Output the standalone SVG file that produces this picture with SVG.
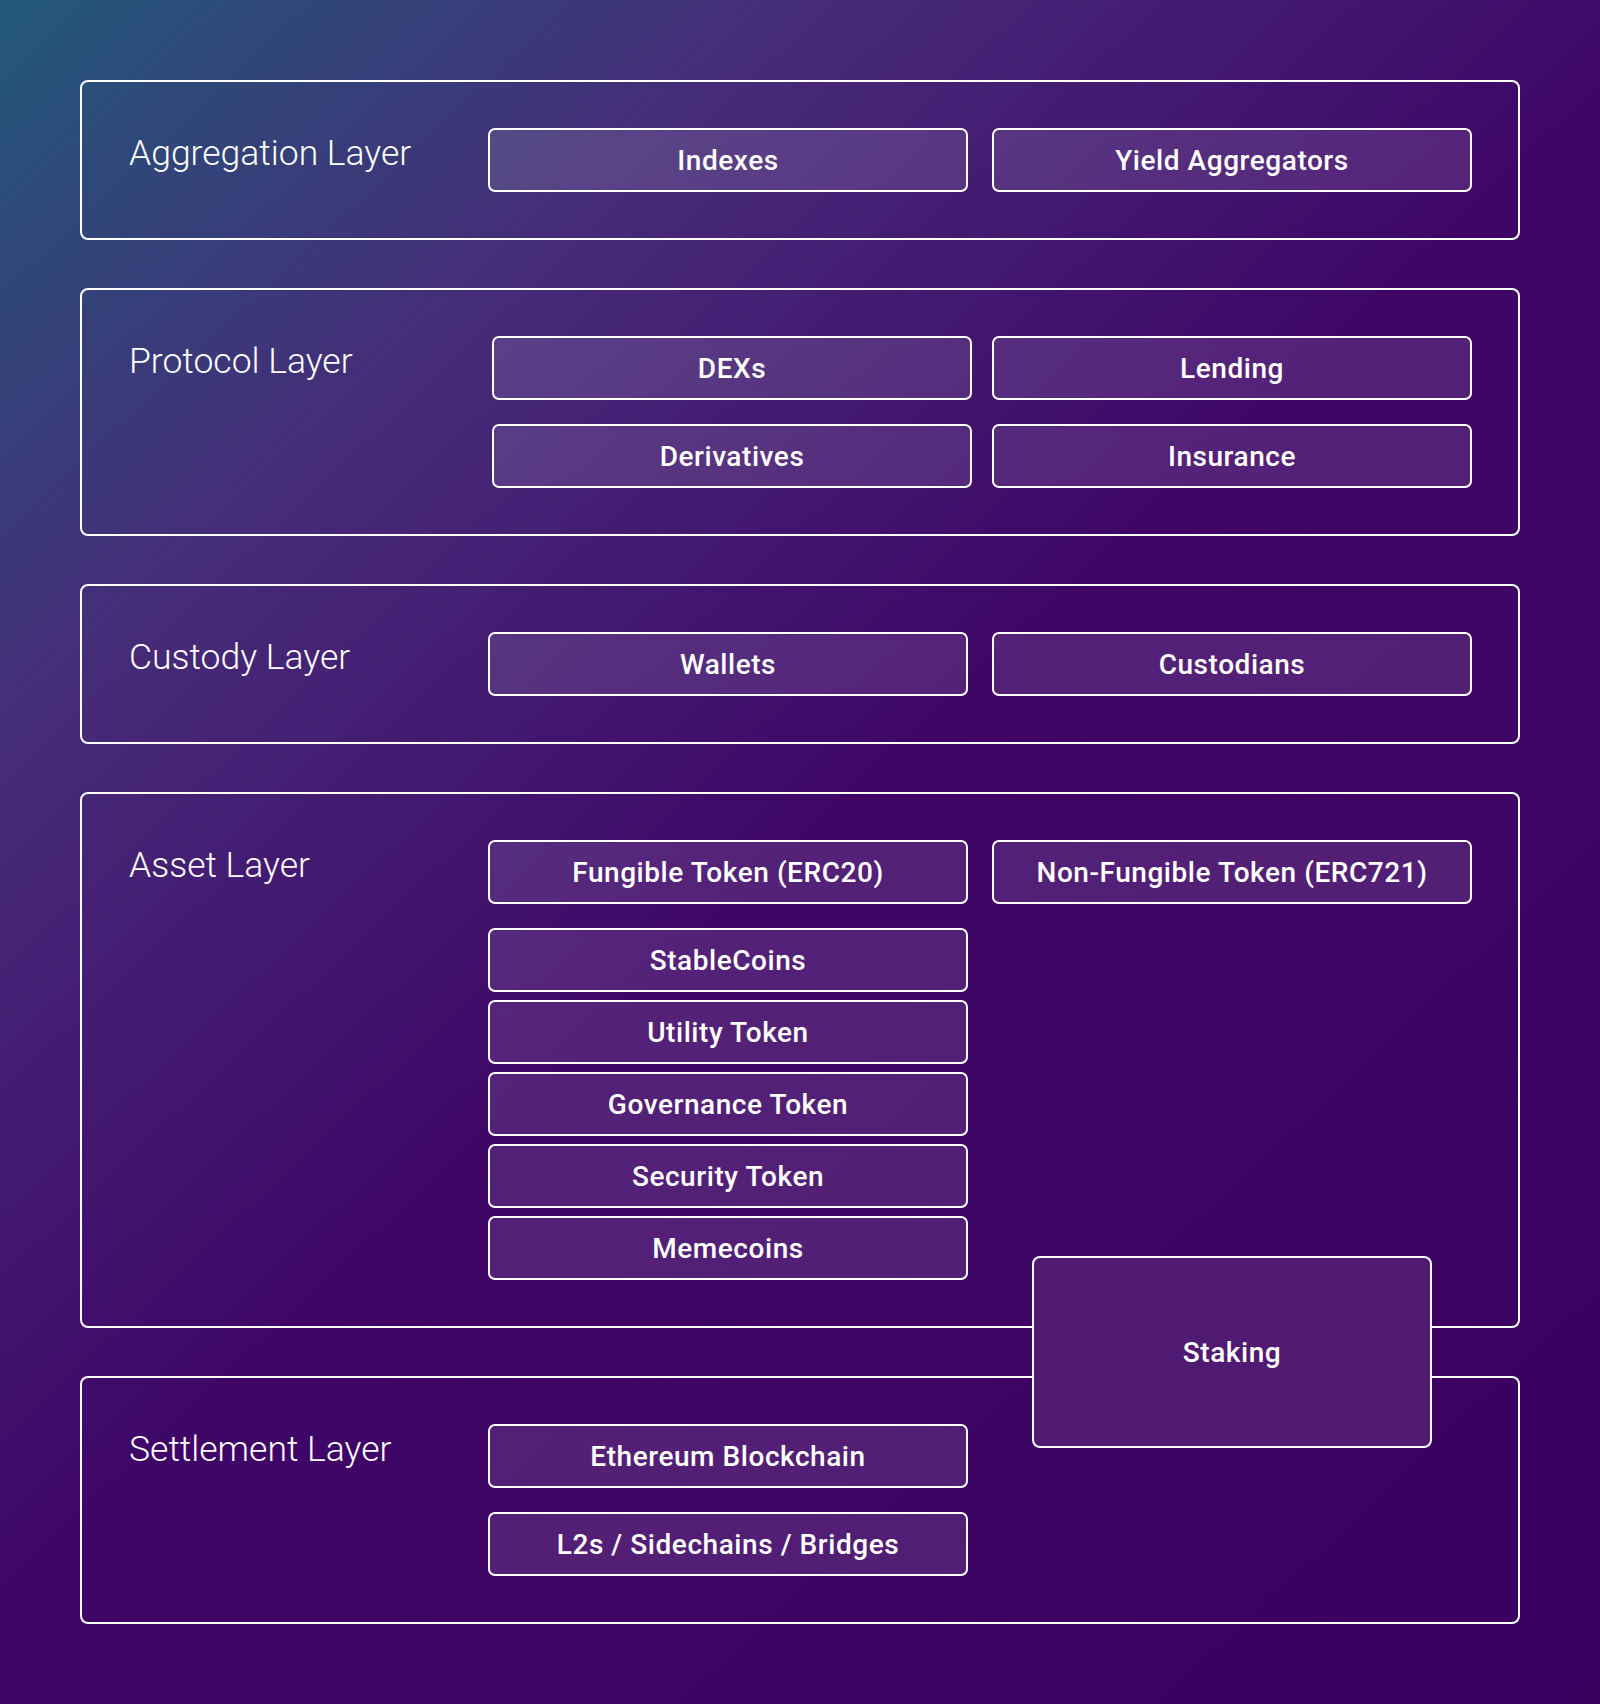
<svg xmlns="http://www.w3.org/2000/svg" width="1600" height="1704" viewBox="0 0 1600 1704">
  <defs>
    <linearGradient id="bg" gradientUnits="userSpaceOnUse" x1="0" y1="0" x2="1600" y2="1704">
      <stop offset="0" stop-color="#22587a"/>
      <stop offset="0.24" stop-color="#462b78"/>
      <stop offset="0.5" stop-color="#3f0668"/>
      <stop offset="1" stop-color="#3a0060"/>
    </linearGradient>
    <style>
      .layer { fill: none; stroke: #ffffff; stroke-width: 2; }
      .item { fill: #ffffff; fill-opacity: 0.11; stroke: #ffffff; stroke-width: 2; }
      .stake { fill: #501a72; stroke: #ffffff; stroke-width: 2; }
      .ltitle { font-family: Roboto, "Liberation Sans", sans-serif; font-weight: 300; font-size: 35.5px; fill: #ffffff; }
      .itxt { font-family: Roboto, "Liberation Sans", sans-serif; font-weight: 500; font-size: 28px; fill: #ffffff; text-anchor: middle; letter-spacing: 0.55px; }
    </style>
  </defs>
  <rect x="0" y="0" width="1600" height="1704" fill="url(#bg)"/>

  <g id="layer-aggregation">
    <rect class="layer" x="81" y="81" width="1438" height="158" rx="7"/>
    <text class="ltitle" x="129" y="165">Aggregation Layer</text>
  </g>
  <g id="layer-protocol">
    <rect class="layer" x="81" y="289" width="1438" height="246" rx="7"/>
    <text class="ltitle" x="129" y="373">Protocol Layer</text>
  </g>
  <g id="layer-custody">
    <rect class="layer" x="81" y="585" width="1438" height="158" rx="7"/>
    <text class="ltitle" x="129" y="669">Custody Layer</text>
  </g>
  <g id="layer-asset">
    <rect class="layer" x="81" y="793" width="1438" height="534" rx="7"/>
    <text class="ltitle" x="129" y="877">Asset Layer</text>
  </g>
  <g id="layer-settlement">
    <rect class="layer" x="81" y="1377" width="1438" height="246" rx="7"/>
    <text class="ltitle" x="129" y="1461">Settlement Layer</text>
  </g>

  <g id="indexes"><rect class="item" x="489" y="129" width="478" height="62" rx="6"/><text class="itxt" x="728" y="170">Indexes</text></g>
  <g id="yield-aggregators"><rect class="item" x="993" y="129" width="478" height="62" rx="6"/><text class="itxt" x="1232" y="170">Yield Aggregators</text></g>

  <g id="dexs"><rect class="item" x="493" y="337" width="478" height="62" rx="6"/><text class="itxt" x="732" y="378">DEXs</text></g>
  <g id="lending"><rect class="item" x="993" y="337" width="478" height="62" rx="6"/><text class="itxt" x="1232" y="378">Lending</text></g>
  <g id="derivatives"><rect class="item" x="493" y="425" width="478" height="62" rx="6"/><text class="itxt" x="732" y="466">Derivatives</text></g>
  <g id="insurance"><rect class="item" x="993" y="425" width="478" height="62" rx="6"/><text class="itxt" x="1232" y="466">Insurance</text></g>

  <g id="wallets"><rect class="item" x="489" y="633" width="478" height="62" rx="6"/><text class="itxt" x="728" y="674">Wallets</text></g>
  <g id="custodians"><rect class="item" x="993" y="633" width="478" height="62" rx="6"/><text class="itxt" x="1232" y="674">Custodians</text></g>

  <g id="fungible"><rect class="item" x="489" y="841" width="478" height="62" rx="6"/><text class="itxt" x="728" y="882">Fungible Token (ERC20)</text></g>
  <g id="non-fungible"><rect class="item" x="993" y="841" width="478" height="62" rx="6"/><text class="itxt" x="1232" y="882">Non-Fungible Token (ERC721)</text></g>
  <g id="stablecoins"><rect class="item" x="489" y="929" width="478" height="62" rx="6"/><text class="itxt" x="728" y="970">StableCoins</text></g>
  <g id="utility"><rect class="item" x="489" y="1001" width="478" height="62" rx="6"/><text class="itxt" x="728" y="1042">Utility Token</text></g>
  <g id="governance"><rect class="item" x="489" y="1073" width="478" height="62" rx="6"/><text class="itxt" x="728" y="1114">Governance Token</text></g>
  <g id="security"><rect class="item" x="489" y="1145" width="478" height="62" rx="6"/><text class="itxt" x="728" y="1186">Security Token</text></g>
  <g id="memecoins"><rect class="item" x="489" y="1217" width="478" height="62" rx="6"/><text class="itxt" x="728" y="1258">Memecoins</text></g>

  <g id="ethereum"><rect class="item" x="489" y="1425" width="478" height="62" rx="6"/><text class="itxt" x="728" y="1466">Ethereum Blockchain</text></g>
  <g id="l2s"><rect class="item" x="489" y="1513" width="478" height="62" rx="6"/><text class="itxt" x="728" y="1554">L2s / Sidechains / Bridges</text></g>

  <g id="staking"><rect class="stake" x="1033" y="1257" width="398" height="190" rx="7"/><text class="itxt" x="1232" y="1362">Staking</text></g>

  <g id="connectors"/>
</svg>
